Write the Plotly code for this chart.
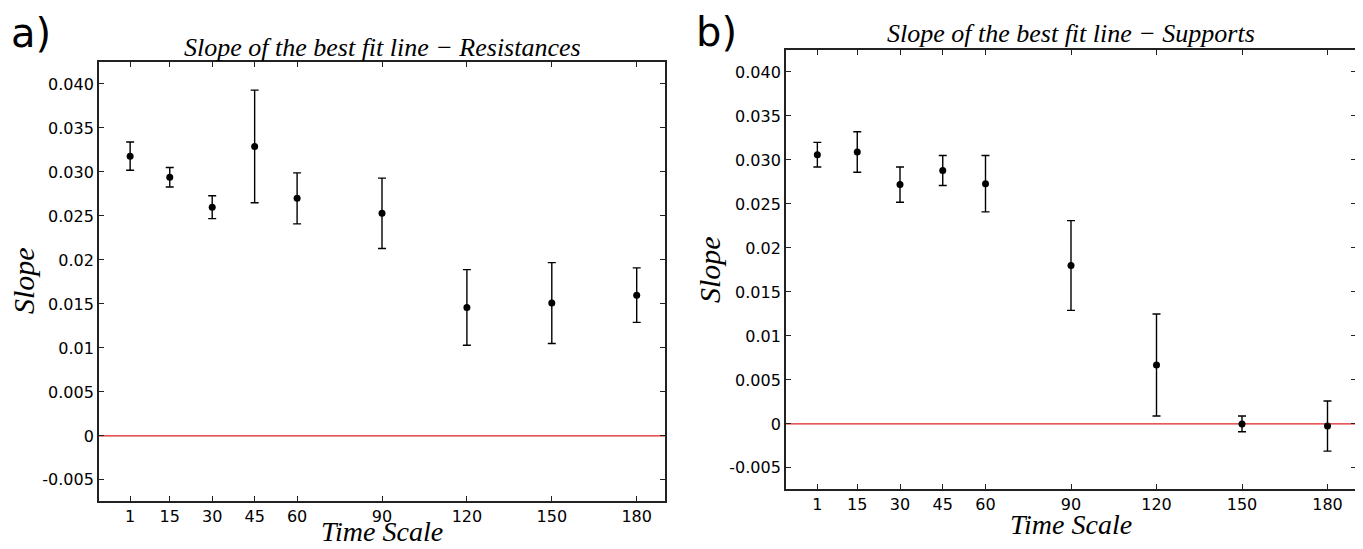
import plotly.graph_objects as go

# ---- data ----
time_scales = [1, 15, 30, 45, 60, 90, 120, 150, 180]
res_slope = [0.0318, 0.0294, 0.0260, 0.0329, 0.0270, 0.0253, 0.0146, 0.0151, 0.0160]
res_err = [0.0016, 0.0011, 0.0013, 0.0064, 0.0029, 0.0040, 0.0043, 0.0046, 0.0031]
sup_slope = [0.0306, 0.0309, 0.0272, 0.0288, 0.0273, 0.0180, 0.0067, 0.0000, -0.00025]
sup_err = [0.0014, 0.0023, 0.0020, 0.0017, 0.0032, 0.0051, 0.0058, 0.0009, 0.00285]
y_tickvals = [-0.005, 0, 0.005, 0.01, 0.015, 0.02, 0.025, 0.030, 0.035, 0.040]
y_ticktext = ["-0.005", "0", "0.005", "0.01", "0.015", "0.02", "0.025", "0.030", "0.035", "0.040"]
x_ticktext = [str(v) for v in time_scales]

# the page body has a default 8px margin, so the figure is drawn from (8, 8)
OFF = 8
W, H = 1363 - OFF, 549 - OFF
fig = go.Figure()

for slope, err, xa, ya in [(res_slope, res_err, "x", "y"), (sup_slope, sup_err, "x2", "y2")]:
    fig.add_trace(go.Scatter(
        x=time_scales, y=slope, mode="markers", xaxis=xa, yaxis=ya,
        marker=dict(color="black", size=7, symbol="circle"),
        error_y=dict(type="data", array=err, visible=True, color="black",
                     thickness=1.4, width=4),
        showlegend=False, hoverinfo="x+y"))

tickfont = dict(family="DejaVu Sans", size=16, color="black")
common_x = dict(range=[-10, 190], tickvals=time_scales, ticktext=x_ticktext,
                showgrid=False, zeroline=False, showline=True, linecolor="#222",
                linewidth=1.8, mirror="ticks", ticks="inside", ticklen=5,
                tickcolor="#222", tickfont=tickfont)
common_y = dict(range=[-0.0074, 0.0425], tickvals=y_tickvals, ticktext=y_ticktext,
                showgrid=False, zeroline=False,
                showline=True, linecolor="#222", linewidth=1.8, mirror="ticks",
                ticks="inside", ticklen=5, tickcolor="#222", tickfont=tickfont)


def px(x):
    return (x - OFF) / W


def py(y):
    return 1 - (y - OFF) / H


fig.update_layout(
    width=W, height=H, autosize=False,
    margin=dict(l=0, r=0, t=0, b=0),
    paper_bgcolor="white", plot_bgcolor="white",
    xaxis=dict(domain=[px(99), px(665)], anchor="y", **common_x),
    yaxis=dict(domain=[py(501), py(62)], anchor="x", **common_y),
    xaxis2=dict(domain=[px(786), px(1356)], anchor="y2", **common_x),
    yaxis2=dict(domain=[py(489), py(50)], anchor="x2", **common_y),
)

# red reference line at zero slope
for xr, yr in [("x domain", "y"), ("x2 domain", "y2")]:
    fig.add_shape(type="line", xref=xr, yref=yr, x0=0, x1=1, y0=0, y1=0,
                  line=dict(color="#e02020", width=1.3), layer="below")

serif = "Liberation Serif"
ann = []
# panel letters
ann.append(dict(text="a)", x=px(31), y=py(33), font=dict(family="DejaVu Sans", size=40, color="black")))
ann.append(dict(text="b)", x=px(716), y=py(32), font=dict(family="DejaVu Sans", size=40, color="black")))
# titles
ann.append(dict(text="<i>Slope of the best fit line − Resistances</i>", x=px(382), y=py(47),
                font=dict(family=serif, size=26, color="black")))
ann.append(dict(text="<i>Slope of the best fit line − Supports</i>", x=px(1071), y=py(34),
                font=dict(family=serif, size=26, color="black")))
# x titles
ann.append(dict(text="<i>Time Scale</i>", x=px(382), y=0, yanchor="bottom",
                font=dict(family=serif, size=28, color="black")))
ann.append(dict(text="<i>Time Scale</i>", x=px(1071), y=py(524), font=dict(family=serif, size=28, color="black")))
# y titles
ann.append(dict(text="<i>Slope</i>", x=px(23), y=py(281), textangle=-90, font=dict(family=serif, size=30, color="black")))
ann.append(dict(text="<i>Slope</i>", x=px(709), y=py(270), textangle=-90, font=dict(family=serif, size=30, color="black")))

for a in ann:
    a.setdefault("yanchor", "middle")
    a.update(xref="paper", yref="paper", showarrow=False, xanchor="center")
fig.update_layout(annotations=ann)

fig.write_html("out.html")
